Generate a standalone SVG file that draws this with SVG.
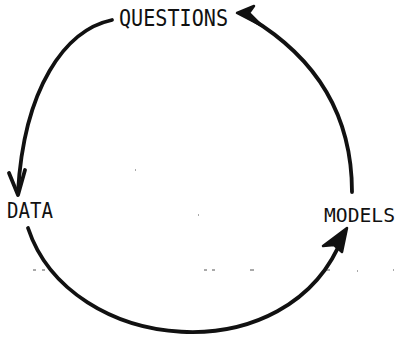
<svg xmlns="http://www.w3.org/2000/svg" width="399" height="337" viewBox="0 0 399 337">
<style>
text{font-family:"DejaVu Sans Mono","Liberation Mono",monospace;fill:#111;}
.arc{fill:none;stroke:#111;stroke-width:3.8;stroke-linecap:round;stroke-linejoin:round;}
.head{fill:#111;stroke:#111;stroke-width:2.5;stroke-linejoin:round;}
.speck{stroke:#555;stroke-width:1;}
</style>
<rect width="399" height="337" fill="#fff"/>
<g id="questions"><text x="119" y="26" font-size="23" textLength="109" lengthAdjust="spacingAndGlyphs">QUESTIONS</text></g>
<g id="data"><text x="7" y="218" font-size="21" textLength="46" lengthAdjust="spacingAndGlyphs">DATA</text></g>
<g id="models"><text x="324" y="222" font-size="20" textLength="71" lengthAdjust="spacingAndGlyphs">MODELS</text></g>
<g id="connectors">
<path class="arc" d="M112,20 C65,30 24,88 18,192"/>
<path class="arc" d="M9,173 L18,195 L25,170"/>
<path class="arc" d="M352,192 C352,120 320,60 250,18"/>
<path class="head" d="M237,13 L254,6 L249,13 L262,26 Z"/>
<path class="arc" d="M28,228 C70,355 290,375 343,236"/>
<path class="head" d="M347,228 L323,246 L334,245 L342,252 Z"/>
</g>
<g id="specks">
<path class="speck" d="M33,270 h3 M42,270 h3 M204,270 h3 M212,270 h3 M250,270 h4 M327,270 h3 M357,271 h1 M393,270 h1 M135,170 h1 M198,215 h1"/>
</g>
</svg>
